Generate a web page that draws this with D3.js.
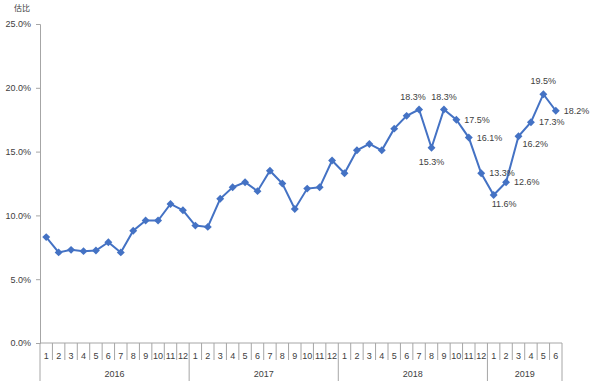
<!DOCTYPE html>
<html>
<head>
<meta charset="utf-8">
<script src="https://cdn.jsdelivr.net/npm/d3@7"></script>
<style>
  body { margin: 0; background: #fff; }
  text { font-family: "Liberation Sans", Arial, sans-serif; fill: #404040; }
</style>
</head>
<body>
<div id="chart"></div>
<script>
// data
var years = ["2016", "2017", "2018", "2019"];
var monthsPerYear = [12, 12, 12, 6];
var values = [
  8.3, 7.1, 7.3, 7.2, 7.25, 7.9, 7.1, 8.8, 9.6, 9.6, 10.9, 10.4,
  9.2, 9.1, 11.3, 12.2, 12.6, 11.9, 13.5, 12.5, 10.5, 12.1, 12.2, 14.3,
  13.3, 15.1, 15.6, 15.1, 16.8, 17.8, 18.3, 15.3, 18.3, 17.5, 16.1, 13.3,
  11.6, 12.6, 16.2, 17.3, 19.5, 18.2
];
var yTicks = [0, 5, 10, 15, 20, 25];
var yTitle = "估比";
// which points carry a value label, and where
var labelIndex = [30, 31, 32, 33, 34, 35, 36, 37, 38, 39, 40, 41];
var labelPos = ["aboveleft", "below", "above", "right", "right", "right",
                "belowshift", "right", "belowright", "right", "above", "right"];

var w = 594, h = 389;
var lineColor = "#4472C4";
var axisColor = "#a6a6a6";

// build category list
var cats = [];
years.forEach(function(y, i) {
  for (var m = 1; m <= monthsPerYear[i]; m++) cats.push({year: y, month: m});
});
cats.forEach(function(c, i) { c.i = i; c.v = values[i]; });

var svg = d3.select("#chart").append("svg")
  .attr("width", w).attr("height", h);

var x = d3.scaleBand()
  .domain(d3.range(cats.length))
  .range([40, 562]);

var y = d3.scaleLinear()
  .domain([0, 25])
  .range([343, 24]);

// y axis
var yAxis = d3.axisLeft(y)
  .tickValues(yTicks)
  .tickSize(4)
  .tickPadding(5)
  .tickFormat(function(d) { return d.toFixed(1) + "%"; });

var gy = svg.append("g")
  .attr("transform", "translate(40,0)")
  .call(yAxis);
gy.select(".domain").attr("stroke", axisColor);
gy.selectAll(".tick line").attr("stroke", axisColor);
gy.selectAll(".tick text")
  .style("font-family", "'Liberation Sans', Arial, sans-serif")
  .style("font-size", "9px")
  .attr("fill", "#404040");

svg.append("text")
  .attr("x", 22)
  .attr("y", 11)
  .attr("text-anchor", "middle")
  .style("font-family", "'Noto Sans CJK SC', sans-serif")
  .style("font-size", "8px")
  .text(yTitle);

// x axis line
svg.append("line")
  .attr("x1", 40).attr("x2", 562)
  .attr("y1", y(0)).attr("y2", y(0))
  .attr("stroke", axisColor);

// month separators, longer at year boundaries
svg.selectAll(".msep")
  .data(cats.slice(1))
  .enter()
  .append("line")
  .attr("class", "msep")
  .attr("x1", function(d) { return x(d.i); })
  .attr("x2", function(d) { return x(d.i); })
  .attr("y1", y(0))
  .attr("y2", function(d) { return d.month == 1 ? 381 : 360; })
  .attr("stroke", axisColor);

// outer edges
svg.selectAll(".edge")
  .data([40, 562])
  .enter()
  .append("line")
  .attr("x1", function(d) { return d; })
  .attr("x2", function(d) { return d; })
  .attr("y1", y(0))
  .attr("y2", 381)
  .attr("stroke", axisColor);

// month labels
svg.selectAll(".mlab")
  .data(cats)
  .enter()
  .append("text")
  .attr("class", "mlab")
  .attr("x", function(d) { return x(d.i) + x.bandwidth() / 2; })
  .attr("y", 356)
  .attr("dy", "0.35em")
  .attr("text-anchor", "middle")
  .style("font-size", "9px")
  .text(function(d) { return d.month; });

// year labels
var start = 0;
years.forEach(function(yr, i) {
  var first = start, last = start + monthsPerYear[i] - 1;
  svg.append("text")
    .attr("x", (x(first) + x(last) + x.bandwidth()) / 2)
    .attr("y", 374)
    .attr("dy", "0.35em")
    .attr("text-anchor", "middle")
    .style("font-size", "9px")
    .text(yr);
  start += monthsPerYear[i];
});

// line
var line = d3.line()
  .x(function(d) { return x(d.i) + x.bandwidth() / 2; })
  .y(function(d) { return y(d.v); });

svg.append("path")
  .datum(cats)
  .attr("d", line)
  .attr("fill", "none")
  .attr("stroke", lineColor)
  .attr("stroke-width", 2);

// diamond markers
svg.selectAll(".pt")
  .data(cats)
  .enter()
  .append("path")
  .attr("class", "pt")
  .attr("d", d3.symbol().type(d3.symbolDiamond2).size(40))
  .attr("transform", function(d) {
    return "translate(" + (x(d.i) + x.bandwidth() / 2) + "," + y(d.v) + ")";
  })
  .attr("fill", lineColor);

// value labels
var offsets = {
  above: {dx: 0, dy: -13, anchor: "middle"},
  aboveleft: {dx: -6, dy: -13, anchor: "middle"},
  below: {dx: 0, dy: 14, anchor: "middle"},
  belowshift: {dx: -2, dy: 9, anchor: "start"},
  right: {dx: 8, dy: 0, anchor: "start"},
  belowright: {dx: 4, dy: 8, anchor: "start"}
};
labelIndex.forEach(function(idx, k) {
  var d = cats[idx];
  var o = offsets[labelPos[k]];
  svg.append("text")
    .attr("x", x(d.i) + x.bandwidth() / 2 + o.dx)
    .attr("y", y(d.v) + o.dy)
    .attr("dy", "0.35em")
    .attr("text-anchor", o.anchor)
    .style("font-size", "9px")
    .text(d.v.toFixed(1) + "%");
});
</script>
</body>
</html>
